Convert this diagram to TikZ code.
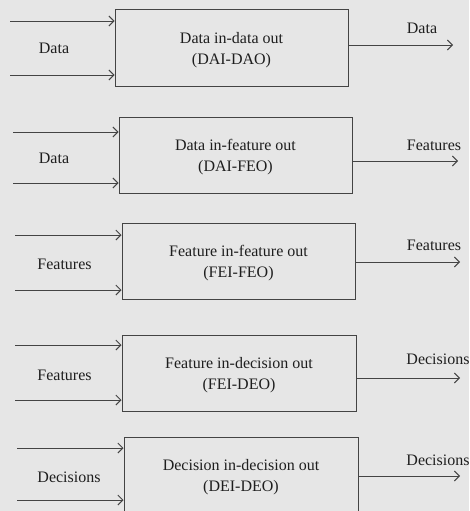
\documentclass[tikz,border=0pt]{standalone}
\usepackage{fontspec}
\setmainfont{Liberation Serif}
\usetikzlibrary{arrows.meta}
\definecolor{bg}{HTML}{E6E6E6}
\definecolor{ln}{HTML}{444444}
\definecolor{tx}{HTML}{1E1E1E}
\begin{document}
\begin{tikzpicture}[x=1pt,y=-1pt,
  fusebox/.style={draw=ln,line width=1pt,minimum width=233pt,minimum height=76pt,inner sep=0pt,
    align=center,text=tx,text depth=0pt,font=\fontsize{16}{21}\selectfont},
  lbl/.style={text=tx,inner sep=0pt,font=\fontsize{16}{18}\selectfont},
  conn/.style={draw=ln,line width=0.9pt,-{Straight Barb[length=5pt,width=10pt,line width=0.9pt]}}]
\fill[bg] (0,0) rectangle (469,511);
\useasboundingbox (0,0) rectangle (469,511);
\clip (0,0) rectangle (469,511);
% boxes
\node[fusebox] (b1) at (231.5,48) {Data in-data out\\(DAI-DAO)};
\node[fusebox] (b2) at (235.5,155.5) {Data in-feature out\\(DAI-FEO)};
\node[fusebox] (b3) at (238.5,261.5) {Feature in-feature out\\(FEI-FEO)};
\node[fusebox,minimum width=234pt] (b4) at (239,373) {Feature in-decision out\\(FEI-DEO)};
\node[fusebox,minimum width=234pt] (b5) at (241,475) {Decision in-decision out\\(DEI-DEO)};
% free ends
\coordinate (i1a) at (10,21);  \coordinate (i1b) at (10,75);  \coordinate (o1) at (453,45);
\coordinate (i2a) at (13,132); \coordinate (i2b) at (13,183); \coordinate (o2) at (458,161);
\coordinate (i3a) at (15,235); \coordinate (i3b) at (15,290); \coordinate (o3) at (460,262);
\coordinate (i4a) at (15,345); \coordinate (i4b) at (15,400); \coordinate (o4) at (460,378);
\coordinate (i5a) at (17,448); \coordinate (i5b) at (17,500); \coordinate (o5) at (460,476);
% connectors
\foreach \k in {1,...,5}{
  \draw[conn] (i\k a) -- (i\k a -| b\k.west);
  \draw[conn] (i\k b) -- (i\k b -| b\k.west);
  \draw[conn] (o\k -| b\k.east) -- (o\k);
}
% labels
\node[lbl] (l1) at (54,48) {Data};
\node[lbl] (r1) at (422,28) {Data};
\node[lbl] (l2) at (54,158) {Data};
\node[lbl] (r2) at (434,145) {Features};
\node[lbl] (l3) at (64.5,264.5) {Features};
\node[lbl] (r3) at (434,245.5) {Features};
\node[lbl] (l4) at (64.5,375) {Features};
\node[lbl] (r4) at (438,359) {Decisions};
\node[lbl] (l5) at (69,477.5) {Decisions};
\node[lbl] (r5) at (438,460) {Decisions};
\end{tikzpicture}
\end{document}
